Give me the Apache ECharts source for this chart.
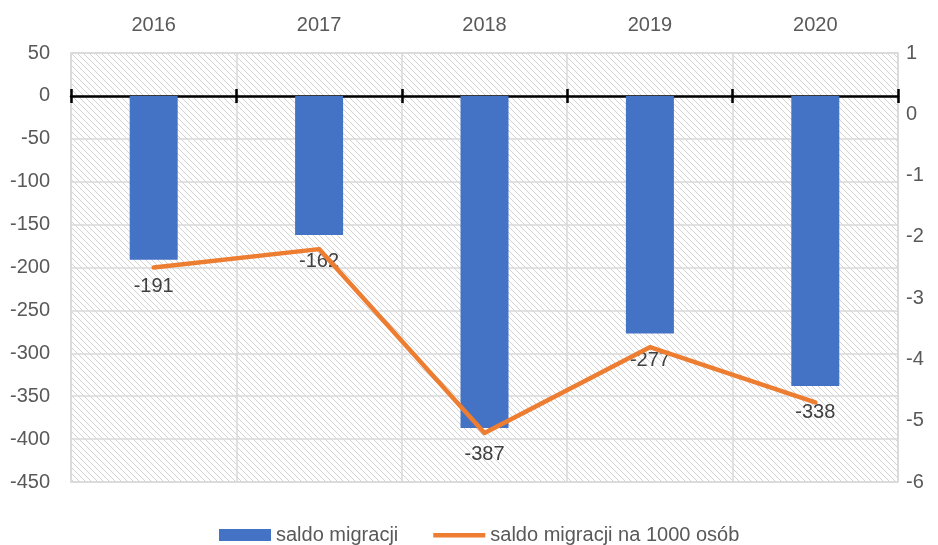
<!DOCTYPE html>
<html>
<head>
<meta charset="utf-8">
<script src="https://cdn.jsdelivr.net/npm/echarts@6/dist/echarts.min.js"></script>
<style>html,body{margin:0;padding:0;background:#fff;}#c{width:938px;height:545px;}</style>
</head>
<body>
<div id="c"></div>
<script>
const categories = ['2016', '2017', '2018', '2019', '2020'];
const saldo = [-191, -162, -387, -277, -338];
const saldoPer1000 = [-2.5, -2.2, -5.2, -3.8, -4.7];
const seriesNames = ['saldo migracji', 'saldo migracji na 1000 osób'];

const FONT = '"Liberation Sans", Arial, sans-serif';
const FS = 20;

function hatch() {
  const s = 6;
  const c = document.createElement('canvas');
  c.width = s; c.height = s;
  const g = c.getContext('2d');
  g.fillStyle = '#ffffff';
  g.fillRect(0, 0, s, s);
  g.strokeStyle = '#d3d3d3';
  g.lineWidth = 1;
  g.beginPath();
  g.moveTo(-1, -1); g.lineTo(s + 1, s + 1);
  g.moveTo(-1, s - 1); g.lineTo(1, s + 1);
  g.moveTo(s - 1, -1); g.lineTo(s + 1, 1);
  g.stroke();
  return c;
}

const chart = echarts.init(document.getElementById('c'), null, {renderer: 'canvas'});
chart.setOption({
  animation: false,
  textStyle: {fontFamily: FONT},
  grid: {
    left: 71, right: 40, top: 53, bottom: 63,
    show: true,
    backgroundColor: {image: hatch(), repeat: 'repeat'},
    borderColor: '#d9d9d9', borderWidth: 1.5
  },
  legend: {
    left: 214, top: 520,
    itemWidth: 52, itemHeight: 12, itemGap: 35,
    textStyle: {fontSize: FS, color: '#595959', fontFamily: FONT},
    data: [
      {name: seriesNames[0], icon: 'rect'},
      {name: seriesNames[1], icon: 'path://M0,0 M52,12 M0,4 L52,4 L52,8.5 L0,8.5 Z'}
    ]
  },
  xAxis: [
    {
      type: 'category', data: categories, position: 'top',
      axisLine: {show: false}, axisTick: {show: false},
      axisLabel: {fontSize: FS, color: '#595959', margin: 18},
      splitLine: {show: true, lineStyle: {color: '#d9d9d9', width: 1.5}}
    },
    {
      type: 'category', data: categories, position: 'bottom',
      axisLine: {show: true, onZero: true, onZeroAxisIndex: 0, lineStyle: {color: '#000', width: 2.5}},
      axisTick: {show: true, inside: false, length: 7, lineStyle: {color: '#000', width: 2.5}},
      axisLabel: {show: false}, splitLine: {show: false}
    },
    {
      type: 'category', data: categories, position: 'bottom',
      axisLine: {show: false, onZero: true, onZeroAxisIndex: 0},
      axisTick: {show: true, inside: true, length: 7, lineStyle: {color: '#000', width: 2.5}},
      axisLabel: {show: false}, splitLine: {show: false}
    }
  ],
  yAxis: [
    {
      type: 'value', min: -450, max: 50, interval: 50,
      axisLine: {show: false}, axisTick: {show: false},
      axisLabel: {fontSize: FS, color: '#595959', margin: 21},
      splitLine: {show: true, lineStyle: {color: '#d9d9d9', width: 1.5}}
    },
    {
      type: 'value', min: -6, max: 1, interval: 1, position: 'right',
      axisLine: {show: false}, axisTick: {show: false},
      axisLabel: {fontSize: FS, color: '#595959', margin: 8},
      splitLine: {show: false}
    }
  ],
  series: [
    {
      name: seriesNames[0], type: 'bar', data: saldo, barWidth: 48,
      xAxisIndex: 0, yAxisIndex: 0,
      itemStyle: {color: '#4472C4'},
      label: {show: true, position: 'bottom', distance: 17, fontSize: FS, color: '#404040'}
    },
    {
      name: seriesNames[1], type: 'line', data: saldoPer1000,
      xAxisIndex: 0, yAxisIndex: 1,
      showSymbol: false, symbol: 'none',
      lineStyle: {color: '#ED7D31', width: 4.5, cap: 'round', join: 'round'},
      itemStyle: {color: '#ED7D31'},
      z: 3
    }
  ]
});
</script>
</body>
</html>
